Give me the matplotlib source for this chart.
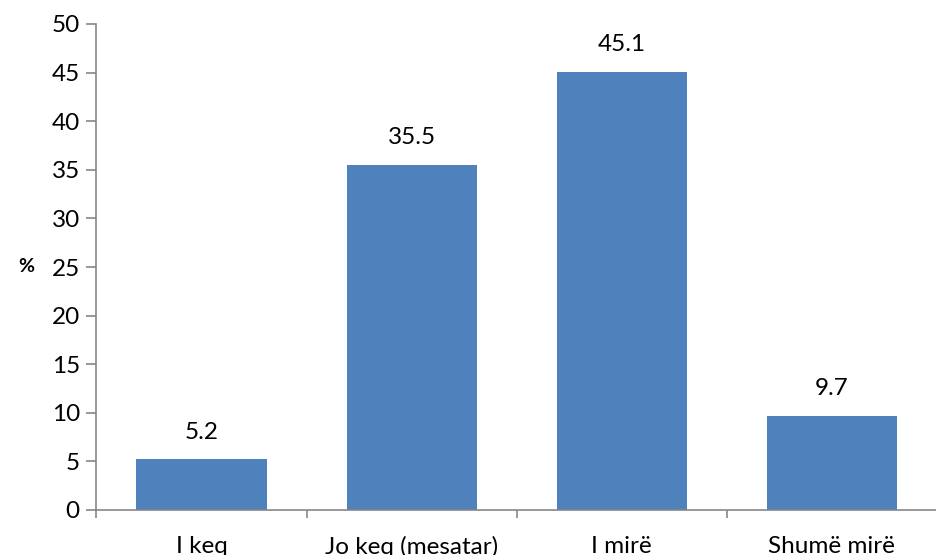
import matplotlib.pyplot as plt
import numpy as np

categories = ['I keq', 'Jo keq (mesatar)', 'I mirë', 'Shumë mirë']
values = [5.2, 35.5, 45.1, 9.7]
yticks = [0, 5, 10, 15, 20, 25, 30, 35, 40, 45, 50]

plt.rcParams['font.family'] = ['Lato', 'DejaVu Sans']

W, H = 937, 555
fig = plt.figure(figsize=(W / 100, H / 100), dpi=100)
# axes box in pixels: left 96.5, right = image edge, top 24, bottom 510
ax = fig.add_axes([96.5 / W, (H - 510) / H, (W - 96.5) / W, (510 - 24) / H])

x = np.arange(len(categories))
bars = ax.bar(x, values, width=0.62, color='#4F81BD', zorder=2)
for xi, v in zip(x, values):
    ax.annotate(f'{v}', (xi, v), xytext=(0, 12), textcoords='offset points',
                ha='center', va='bottom', fontsize=17.5)

ax.set_xlim(-0.5, -0.5 + (W - 96.5) / 213.5)
ax.set_ylim(0, 50)
ax.set_yticks(yticks)
ax.set_xticks(x)
ax.set_xticklabels(categories, fontsize=17.5)
ax.set_xticks(np.arange(len(categories) + 1) - 0.5, minor=True)
ax.tick_params(axis='x', which='major', length=0, pad=19)
ax.tick_params(axis='x', which='minor', length=6, width=1.2, color='#868686')
ax.tick_params(axis='y', length=7, width=1.2, color='#868686', labelsize=17.5, pad=5)

for s in ['top', 'right']:
    ax.spines[s].set_visible(False)
for s in ['left', 'bottom']:
    ax.spines[s].set_color('#868686')
    ax.spines[s].set_linewidth(1.2)

ax.set_ylabel('%', fontsize=14, fontweight='bold', rotation=0, labelpad=18, va='center')

fig.savefig('out.png', dpi=100)
